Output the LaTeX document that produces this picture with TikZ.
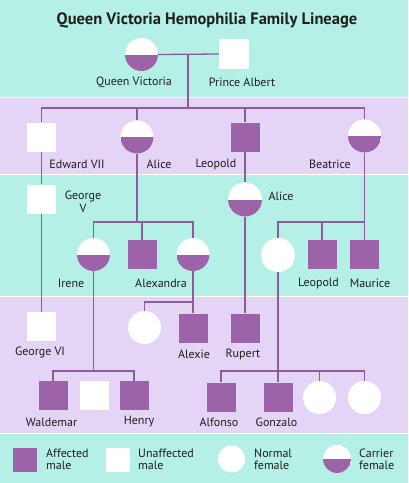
\documentclass[tikz,border=0pt]{standalone}
\usepackage{fontspec}
\setmainfont{PT Sans}
\definecolor{teal}{HTML}{B4F0E6}
\definecolor{lav}{HTML}{E4D4F5}
\definecolor{symc}{HTML}{9C63A8}
\definecolor{linec}{HTML}{8E5C9C}
\definecolor{txt}{HTML}{1E1E1E}
\tikzset{
  female/.style={circle, fill=white, minimum size=33pt, inner sep=0pt},
  carrier/.style={female, path picture={\fill[symc] (path picture bounding box.west) rectangle (path picture bounding box.south east);}},
  affected/.style={rectangle, fill=symc, minimum size=29pt, inner sep=0pt},
  unaffected/.style={rectangle, fill=white, minimum size=29pt, inner sep=0pt},
  lbl/.style={font=\fontsize{12}{13}\selectfont, text=txt, inner sep=0pt},
  leg/.style={lbl, align=left, anchor=west, font=\fontsize{12}{12}\selectfont},
  line/.style={draw=linec, line width=1.3pt},
}
\begin{document}
\begin{tikzpicture}[x=1pt,y=-1pt]
\useasboundingbox (0,0) rectangle (408,483);
% bands
\fill[teal] (0,0) rectangle (408,97);
\fill[lav] (0,97) rectangle (408,174.5);
\fill[teal] (0,174.5) rectangle (408,296);
\fill[lav] (0,296) rectangle (408,433);
\fill[teal] (0,433) rectangle (408,483);
\foreach \yy in {97,174.5,296,433} \draw[white, line width=1pt] (0,\yy) -- (408,\yy);
% title
\node[font=\bfseries\fontsize{16.5}{18}\selectfont, text=txt] (title) at (207,20) {Queen Victoria Hemophilia Family Lineage};
% generation 1
\node[carrier] (qv) at (141.5,54.5) {};
\node[unaffected, minimum size=30pt] (pa) at (234,54) {};
\node[lbl] (lqv) at (134,82) {Queen Victoria};
\node[lbl] (lpa) at (242,82) {Prince Albert};
% generation 2
\node[unaffected] (ed) at (41.5,137) {};
\node[carrier] (al) at (137,137) {};
\node[affected] (leo) at (245,137) {};
\node[carrier] (bea) at (364.5,136) {};
\node[lbl] (led) at (77,164) {Edward VII};
\node[lbl] (lal) at (159,164) {Alice};
\node[lbl] (lleo) at (216,164) {Leopold};
\node[lbl] (lbea) at (330,164) {Beatrice};
% generation 3
\node[unaffected] (gv) at (41.5,199) {};
\node[lbl, align=center, font=\fontsize{12}{12.5}\selectfont] (lgv) at (83,202) {George\\V};
\node[carrier, minimum size=34pt] (al3) at (245,199.5) {};
\node[lbl] (lal3) at (281,196) {Alice};
\node[carrier] (ir) at (93.5,254.5) {};
\node[affected] (s3) at (142,254.5) {};
\node[carrier] (alx) at (193,254.5) {};
\node[lbl] (lir) at (71,283) {Irene};
\node[lbl] (lalx) at (161,283) {Alexandra};
\node[female, minimum size=34pt] (nf) at (278,255) {};
\node[affected] (leo2) at (322,254.5) {};
\node[affected] (mau) at (364.5,254.5) {};
\node[lbl] (lleo2) at (318.5,283) {Leopold};
\node[lbl] (lmau) at (370,283) {Maurice};
% generation 4
\node[unaffected] (gvi) at (41.5,326.5) {};
\node[lbl] (lgvi) at (40,352) {George VI};
\node[female] (nf2) at (144.5,327.5) {};
\node[affected] (alex) at (193,328) {};
\node[affected] (rup) at (245,328) {};
\node[lbl] (lalex) at (194,354) {Alexie};
\node[lbl] (lrup) at (243,354) {Rupert};
% generation 5
\node[affected] (wal) at (53,395.5) {};
\node[unaffected] (un5) at (94,395.5) {};
\node[affected] (hen) at (134,395.5) {};
\node[lbl] (lwal) at (51.5,422) {Waldemar};
\node[lbl] (lhen) at (139,422) {Henry};
\node[affected] (alf) at (221,397) {};
\node[affected] (gon) at (278,397) {};
\node[female] (c1) at (319.5,397.5) {};
\node[female] (c2) at (364.5,397.5) {};
\node[lbl] (lalf) at (219,422) {Alfonso};
\node[lbl] (lgon) at (276.5,422) {Gonzalo};
% legend
\node[affected, minimum size=24pt] (k1) at (25,459.5) {};
\node[leg] (lk1) at (46,459) {Affected\\male};
\node[unaffected, minimum size=24pt] (k2) at (118,459.5) {};
\node[leg] (lk2) at (138,459) {Unaffected\\male};
\node[female, minimum size=27pt] (k3) at (231.5,459) {};
\node[leg] (lk3) at (254,459) {Normal\\female};
\node[carrier, minimum size=28pt] (k4) at (337,459) {};
\node[leg] (lk4) at (359,459) {Carrier\\female};
% connectors
\coordinate (m1) at (188,54);
\coordinate (b1) at (188,108);
\coordinate (b2) at (137,222);
\coordinate (b3) at (364.5,222);
\coordinate (b4) at (193,302);
\coordinate (b5) at (93.5,371);
\coordinate (b6) at (278,371);
\draw[line] (qv.east) -- (pa.west);
\draw[line] (m1) -- (b1);
\draw[line] (ed.north) |- (bea.north |- b1) -- (bea.north);
\draw[line] (al.north) -- (al.north |- b1);
\draw[line] (leo.north) -- (leo.north |- b1);
\draw[line] (ed.south) -- (gv.north);
\draw[line] (gv.south) -- (gvi.north);
\draw[line] (al.south) -- (b2);
\draw[line] (ir.north) |- (alx.north |- b2) -- (alx.north);
\draw[line] (s3.north) -- (s3.north |- b2);
\draw[line] (leo.south) -- (al3.north);
\draw[line] (al3.south) -- (rup.north);
\draw[line] (bea.south) -- (b3);
\draw[line] (nf.north) |- (b3) -- (mau.north);
\draw[line] (leo2.north) -- (leo2.north |- b3);
\draw[line] (alx.south) -- (alex.north);
\draw[line] (nf2.north) |- (b4);
\draw[line] (ir.south) -- (b5);
\draw[line] (wal.north) |- (hen.north |- b5) -- (hen.north);
\draw[line] (nf.south) -- (gon.north);
\draw[line] (alf.north) |- (c2.north |- b6) -- (c2.north);
\draw[line] (c1.north) -- (c1.north |- b6);
\end{tikzpicture}
\end{document}
